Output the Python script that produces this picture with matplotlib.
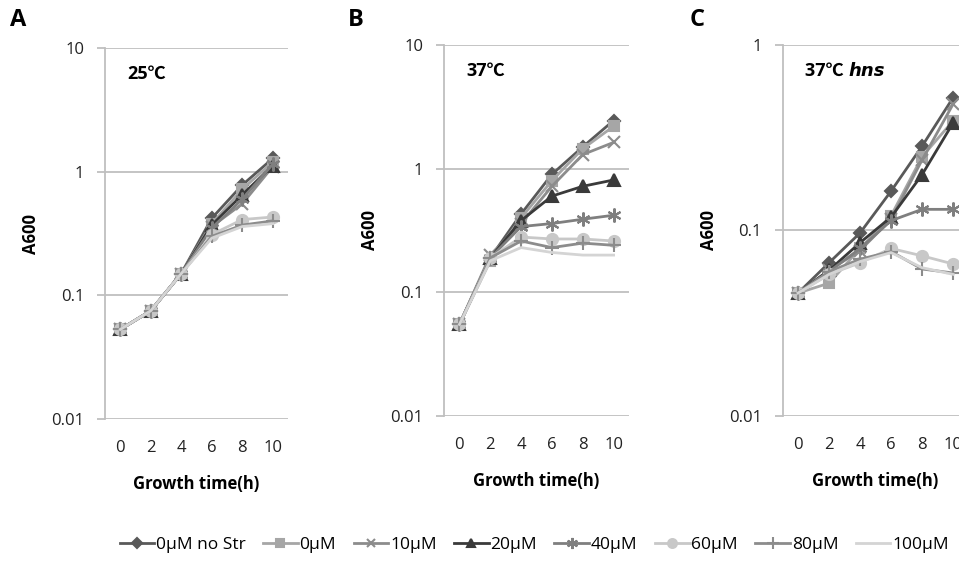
import matplotlib
matplotlib.use("Agg")
from matplotlib import pyplot as plt
import numpy as np

plt.rcParams['font.family'] = ['Open Sans', 'Noto Sans CJK KR', 'DejaVu Sans']

hours = [0, 2, 4, 6, 8, 10]
labels = ['0μM no Str', '0μM', '10μM', '20μM', '40μM', '60μM', '80μM', '100μM']

# A600 readings, one list per series, rows follow the labels above
a_25 = [
    [0.053, 0.075, 0.15, 0.42, 0.78, 1.28],
    [0.053, 0.075, 0.15, 0.38, 0.72, 1.20],
    [0.053, 0.075, 0.15, 0.36, 0.55, 1.10],
    [0.053, 0.075, 0.15, 0.37, 0.65, 1.12],
    [0.053, 0.075, 0.15, 0.35, 0.60, 1.15],
    [0.053, 0.075, 0.15, 0.31, 0.41, 0.43],
    [0.053, 0.075, 0.15, 0.30, 0.37, 0.40],
    [0.053, 0.075, 0.15, 0.29, 0.36, 0.38],
]
a_37 = [
    [0.055, 0.19, 0.43, 0.90, 1.50, 2.45],
    [0.055, 0.18, 0.40, 0.80, 1.45, 2.20],
    [0.055, 0.20, 0.36, 0.72, 1.30, 1.63],
    [0.055, 0.19, 0.38, 0.60, 0.72, 0.81],
    [0.055, 0.19, 0.34, 0.36, 0.39, 0.42],
    [0.055, 0.19, 0.28, 0.27, 0.27, 0.26],
    [0.055, 0.19, 0.26, 0.23, 0.25, 0.24],
    [0.055, 0.18, 0.23, 0.21, 0.20, 0.20],
]
a_hns = [
    [0.046, 0.067, 0.097, 0.163, 0.285, 0.52],
    [0.046, 0.052, 0.080, 0.120, 0.250, 0.39],
    [0.046, 0.061, 0.078, 0.115, 0.240, 0.48],
    [0.046, 0.061, 0.086, 0.118, 0.200, 0.38],
    [0.046, 0.060, 0.080, 0.113, 0.130, 0.13],
    [0.046, 0.058, 0.067, 0.080, 0.073, 0.066],
    [0.046, 0.060, 0.070, 0.077, 0.062, 0.059],
    [0.046, 0.058, 0.068, 0.076, 0.063, 0.058],
]

colors = ['#595959', '#a6a6a6', '#8c8c8c', '#3a3a3a', '#7f7f7f', '#c8c8c8', '#8c8c8c', '#d4d4d4']
markers = ['D', 's', 'x', '^', (6, 2, 0), 'o', '+', None]
msizes = [6, 7, 8, 8, 10, 8, 10, 0]

grey = '#bfbfbf'
x_idx = np.arange(len(hours))

W, H = 9.59, 5.61
fig = plt.figure(figsize=(W, H), dpi=100)

panels = [
    ([0.1095, 0.2531, 0.1908, 0.6613], a_25, (0.01, 10), '25℃', None),
    ([0.463, 0.2585, 0.1929, 0.6613], a_37, (0.01, 10), '37℃', None),
    ([0.816, 0.2585, 0.194, 0.6613], a_hns, (0.01, 1), '37℃ ', 'hns'),
]

for rect, data, ylim, title, ital in panels:
    ax = fig.add_axes(rect)
    for i, vals in enumerate(data):
        ax.plot(x_idx, vals, color=colors[i], lw=2, marker=markers[i],
                markersize=msizes[i], markeredgewidth=1.5, label=labels[i])
    ax.set_yscale('log')
    ax.set_ylim(*ylim)
    ax.set_xlim(-0.5, 5.5)
    ticks = [10 ** k for k in range(int(np.log10(ylim[0])), int(np.log10(ylim[1])) + 1)]
    ax.set_yticks(ticks)
    ax.set_yticklabels([('%g' % t) for t in ticks])
    ax.minorticks_off()
    ax.set_xticks(x_idx)
    ax.set_xticklabels(hours)
    ax.yaxis.grid(True, color=grey, lw=1.3)
    ax.set_axisbelow(True)
    for s in ['top', 'right', 'bottom']:
        ax.spines[s].set_visible(False)
    ax.spines['left'].set_color(grey)
    ax.spines['left'].set_linewidth(1.3)
    ax.tick_params(axis='y', length=6, color=grey, width=1.3, pad=9, labelsize=12, labelcolor='#222222')
    ax.tick_params(axis='x', length=0, pad=15, labelsize=12, labelcolor='#222222')
    ax.set_xlabel('Growth time(h)', fontsize=12, fontweight='bold', labelpad=14)
    ax.set_ylabel('A600', fontsize=12, fontweight='bold', labelpad=8)
    t = ax.text(0.12, 0.955, title, transform=ax.transAxes, fontsize=13,
                fontweight='bold', va='top', ha='left')
    if ital:
        fig.canvas.draw()
        bb = t.get_window_extent()
        fig.text(bb.x1 / fig.dpi / W, bb.y0 / fig.dpi / H, ital, fontsize=13,
                 fontweight='bold', style='italic', va='bottom', ha='left',
                 family=['DejaVu Sans'])

fig.text(10 / 959, 1 - 20 / 561, 'A', fontsize=17, fontweight='bold', va='center')
fig.text(348 / 959, 1 - 20 / 561, 'B', fontsize=17, fontweight='bold', va='center')
fig.text(690 / 959, 1 - 20 / 561, 'C', fontsize=17, fontweight='bold', va='center')

handles, leg_labels = fig.axes[0].get_legend_handles_labels()
fig.legend(handles, leg_labels, loc='center', bbox_to_anchor=(0.557, 1 - 545 / 561),
           ncol=8, frameon=False, fontsize=12.5, handlelength=2.0, handletextpad=0.1,
           columnspacing=1.0, markerscale=0.8)

fig.savefig('out.png', dpi=100)
